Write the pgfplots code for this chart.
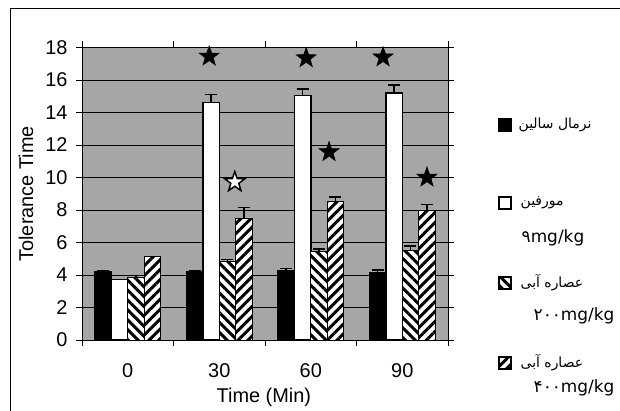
\documentclass[border=0pt]{standalone}
\usepackage{fontspec}
\setmainfont{Liberation Sans}
\newfontfamily\arabicfont[Script=Arabic]{DejaVu Sans}
\newfontfamily\legfont{DejaVu Sans}
\TeXXeTstate=1
\usepackage{pgfplots}
\pgfplotsset{compat=1.18}
\usetikzlibrary{patterns.meta}

\pgfdeclareplotmark{fivestar}{%
  \pgfpathmoveto{\pgfpointpolar{90}{\pgfplotmarksize}}%
  \pgfpathlineto{\pgfpointpolar{126}{0.4\pgfplotmarksize}}%
  \pgfpathlineto{\pgfpointpolar{162}{\pgfplotmarksize}}%
  \pgfpathlineto{\pgfpointpolar{198}{0.4\pgfplotmarksize}}%
  \pgfpathlineto{\pgfpointpolar{234}{\pgfplotmarksize}}%
  \pgfpathlineto{\pgfpointpolar{270}{0.4\pgfplotmarksize}}%
  \pgfpathlineto{\pgfpointpolar{306}{\pgfplotmarksize}}%
  \pgfpathlineto{\pgfpointpolar{342}{0.4\pgfplotmarksize}}%
  \pgfpathlineto{\pgfpointpolar{18}{\pgfplotmarksize}}%
  \pgfpathlineto{\pgfpointpolar{54}{0.4\pgfplotmarksize}}%
  \pgfpathclose
  \pgfusepathqfillstroke
}

\tikzset{
  hatchA/.style={fill=white, postaction={pattern={Lines[angle=-45,distance=7bp,line width=3bp]}}},
  hatchB/.style={fill=white, postaction={pattern={Lines[angle=45,distance=7bp,line width=3bp]}}},
}

\begin{document}
\begin{tikzpicture}[x=1bp,y=1bp]
\begin{axis}[
  at={(82bp,70bp)}, anchor=south west,
  width=366bp, height=292.5bp, scale only axis,
  xmin=-0.5, xmax=3.5, ymin=0, ymax=18,
  ytick={0,2,...,18},
  xtick={0,1,2,3}, xticklabels={0,30,60,90},
  minor xtick={-0.5,0.5,1.5,2.5,3.5},
  major x tick style={draw=none},
  minor x tick style={black, line width=0.6pt},
  y tick style={black, line width=0.6pt},
  tick align=outside,
  major tick length=6bp, minor tick length=6bp,
  ymajorgrids, grid style={black, line width=0.6pt},
  axis line style={black, line width=0.8pt},
  axis background/.style={fill=black!35},
  /pgf/number format/assume math mode=true,
  tick label style={font=\fontsize{20}{24}\selectfont, black},
  xticklabel style={yshift=-14bp},
  yticklabel style={xshift=-5bp},
  label style={font=\fontsize{20}{24}\selectfont},
  ylabel={Tolerance Time},
  ylabel style={at={(axis description cs:-0.153,0.5)}, anchor=center, rotate=0},
  xlabel={Time (Min)},
  xlabel style={at={(axis description cs:0.497,-0.195)}, anchor=center},
  error bars/y dir=plus, error bars/y explicit,
  error bars/error bar style={line width=1.5pt, black},
  error bars/error mark options={line width=1.5pt, mark size=6bp, black, rotate=90},
]
% normal saline
\addplot[ybar, bar width=0.18, bar shift=0pt, fill=black, draw=black, line width=1pt]
  coordinates {(-0.27,4.24) +- (0,0) (0.73,4.2) +- (0,0.05) (1.73,4.3) +- (0,0.1) (2.73,4.15) +- (0,0.15)};
% morphine 9 mg/kg
\addplot[ybar, bar width=0.18, bar shift=0pt, fill=white, draw=black, line width=1.5pt]
  coordinates {(-0.09,3.73) +- (0,0) (0.91,14.6) +- (0,0.5) (1.91,15.05) +- (0,0.4) (2.91,15.2) +- (0,0.5)};
% extract 200 mg/kg
\addplot[ybar, bar width=0.18, bar shift=0pt, draw=black, line width=1pt, hatchA]
  coordinates {(0.09,3.85) +- (0,0.12) (1.09,4.85) +- (0,0.1) (2.09,5.45) +- (0,0.15) (3.09,5.5) +- (0,0.3)};
% extract 400 mg/kg
\addplot[ybar, bar width=0.18, bar shift=0pt, draw=black, line width=1pt, hatchB]
  coordinates {(0.27,5.15) +- (0,0) (1.27,7.5) +- (0,0.65) (2.27,8.5) +- (0,0.3) (3.27,8.0) +- (0,0.35)};
% significance stars
\addplot[only marks, mark=fivestar, mark size=10.5bp, mark options={fill=black, draw=black, line width=0.6pt}]
  coordinates {(0.89,17.45) (1.95,17.35) (2.2,11.57) (2.79,17.4) (3.27,10.0)};
\addplot[only marks, mark=fivestar, mark size=10.5bp, mark options={fill=white, draw=black, line width=1.5pt}]
  coordinates {(1.17,9.72)};
\end{axis}
% legend
\begin{scope}[line width=1.3pt]
  \draw[fill=black] (499,279) rectangle (511,291);
  \node[anchor=west, inner sep=0pt, font=\arabicfont\fontsize{14}{16}\selectfont] at (518,285) {\beginR نرمال سالین\endR};
  \draw[fill=white] (499,201) rectangle (511,213);
  \node[anchor=west, inner sep=0pt, font=\arabicfont\fontsize{14}{16}\selectfont] at (520,207) {\beginR مورفین\endR};
  \node[anchor=west, inner sep=0pt, font=\legfont\fontsize{17}{19}\selectfont] at (521,172) {۹mg/kg};
  \draw[hatchA] (499,121) rectangle (511,133);
  \node[anchor=west, inner sep=0pt, font=\arabicfont\fontsize{14}{16}\selectfont] at (520,127) {\beginR عصاره آبی\endR};
  \node[anchor=west, inner sep=0pt, font=\legfont\fontsize{17}{19}\selectfont] at (533,94) {۲۰۰mg/kg};
  \draw[hatchB] (499,41) rectangle (511,53);
  \node[anchor=west, inner sep=0pt, font=\arabicfont\fontsize{14}{16}\selectfont] at (520,47) {\beginR عصاره آبی\endR};
  \node[anchor=west, inner sep=0pt, font=\legfont\fontsize{17}{19}\selectfont] at (533,22) {۴۰۰mg/kg};
\end{scope}
\draw[line width=0.8pt] (10,-5) -- (10,402) -- (625,402);
\pgfresetboundingbox
\useasboundingbox (0,0) rectangle (620,410);
\end{tikzpicture}
\end{document}
